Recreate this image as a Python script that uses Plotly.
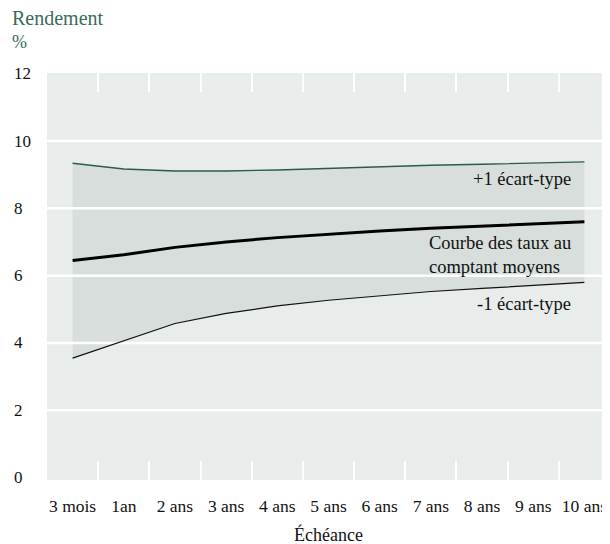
import plotly.graph_objects as go

maturities = ["3 mois", "1an", "2 ans", "3 ans", "4 ans", "5 ans",
              "6 ans", "7 ans", "8 ans", "9 ans", "10 ans"]
upper = [9.34, 9.17, 9.11, 9.11, 9.14, 9.19, 9.24, 9.28, 9.31, 9.35, 9.38]
mean_curve = [6.45, 6.62, 6.84, 7.00, 7.13, 7.24, 7.33, 7.41, 7.48, 7.55, 7.60]
lower = [3.55, 4.07, 4.58, 4.88, 5.10, 5.27, 5.41, 5.53, 5.62, 5.71, 5.80]
y_ticks = [0, 2, 4, 6, 8, 10, 12]
grid_levels = [2, 4, 6, 8, 10]

FONT = "Liberation Serif"
GREEN = "#3b6a5c"
INK = "#111111"
idx = list(range(len(maturities)))
x_lo, x_hi = -0.5, len(maturities) - 0.5
bounds = [i + 0.5 for i in idx[:-1]]

fig = go.Figure()
# band
fig.add_trace(go.Scatter(x=idx, y=lower, mode="lines", line=dict(width=0),
                         showlegend=False, hoverinfo="skip"))
fig.add_trace(go.Scatter(x=idx, y=upper, mode="lines", line=dict(width=0),
                         fill="tonexty", fillcolor="#d8dedb",
                         showlegend=False, hoverinfo="skip"))
# gridlines above band
for g in grid_levels:
    fig.add_trace(go.Scatter(x=[x_lo, x_hi], y=[g, g], mode="lines",
                             line=dict(color="white", width=2.5),
                             showlegend=False, hoverinfo="skip"))
# lines
fig.add_trace(go.Scatter(x=idx, y=upper, mode="lines",
                         line=dict(color="#2c5a4d", width=1.4), showlegend=False))
fig.add_trace(go.Scatter(x=idx, y=lower, mode="lines",
                         line=dict(color=INK, width=1.2), showlegend=False))
fig.add_trace(go.Scatter(x=idx, y=mean_curve, mode="lines",
                         line=dict(color="#000000", width=3), showlegend=False))
# carrier for the top tick axis
fig.add_trace(go.Scatter(x=idx, y=mean_curve, mode="lines", xaxis="x2",
                         line=dict(width=0), opacity=0,
                         showlegend=False, hoverinfo="skip"))

fig.update_layout(
    xaxis=dict(range=[x_lo, x_hi], tickmode="array", tickvals=idx,
               ticktext=maturities, ticks="", showgrid=False, zeroline=False,
               showline=False, ticklabelstandoff=13,
               tickfont=dict(family=FONT, size=17.5, color=INK),
               minor=dict(tickmode="array", tickvals=bounds,
                          ticks="inside", ticklen=19, tickwidth=2,
                          tickcolor="white", showgrid=False)),
    xaxis2=dict(range=[x_lo, x_hi], overlaying="x", side="top",
                tickmode="array", tickvals=bounds, ticks="inside",
                ticklen=19, tickwidth=2, tickcolor="white",
                showticklabels=False, showgrid=False, zeroline=False,
                showline=False),
    yaxis=dict(range=[-0.07, 12.02], showgrid=False, zeroline=False,
               showticklabels=False, ticks="", showline=False),
)

ann = []
for t in y_ticks:
    ann.append(dict(x=-0.0625, xref="paper", y=t, yref="y", text=str(t),
                    showarrow=False, xanchor="left", yanchor="middle",
                    font=dict(family=FONT, size=17, color=INK)))
ann += [
    dict(x=-0.065, xref="paper", y=1.135, yref="paper", text="Rendement",
         showarrow=False, xanchor="left", yanchor="middle",
         font=dict(family=FONT, size=20, color=GREEN)),
    dict(x=-0.065, xref="paper", y=1.076, yref="paper", text="%",
         showarrow=False, xanchor="left", yanchor="middle",
         font=dict(family=FONT, size=18, color=GREEN)),
    dict(x=0.5, xref="paper", y=-0.134, yref="paper", text="Échéance",
         showarrow=False, xanchor="center", yanchor="middle",
         font=dict(family=FONT, size=18, color=INK)),
    dict(x=0.934, xref="paper", y=0.7396, yref="paper", text="+1 écart-type",
         showarrow=False, xanchor="right", yanchor="middle",
         font=dict(family=FONT, size=18.5, color=INK)),
    dict(x=0.934, xref="paper", y=0.552, yref="paper",
         text="Courbe des taux au<br>comptant moyens", align="left",
         showarrow=False, xanchor="right", yanchor="middle",
         font=dict(family=FONT, size=18.5, color=INK)),
    dict(x=0.934, xref="paper", y=0.432, yref="paper", text="-1 écart-type",
         showarrow=False, xanchor="right", yanchor="middle",
         font=dict(family=FONT, size=18.5, color=INK)),
]

# page body has an 8px default margin: compensate so the plot lands in place
fig.update_layout(width=602, height=536,
                  margin=dict(l=39, r=0, t=65, b=64),
                  plot_bgcolor="#e8ecea", paper_bgcolor="white",
                  annotations=ann, showlegend=False,
                  font=dict(family=FONT, size=18))
fig.write_html("out.html")
